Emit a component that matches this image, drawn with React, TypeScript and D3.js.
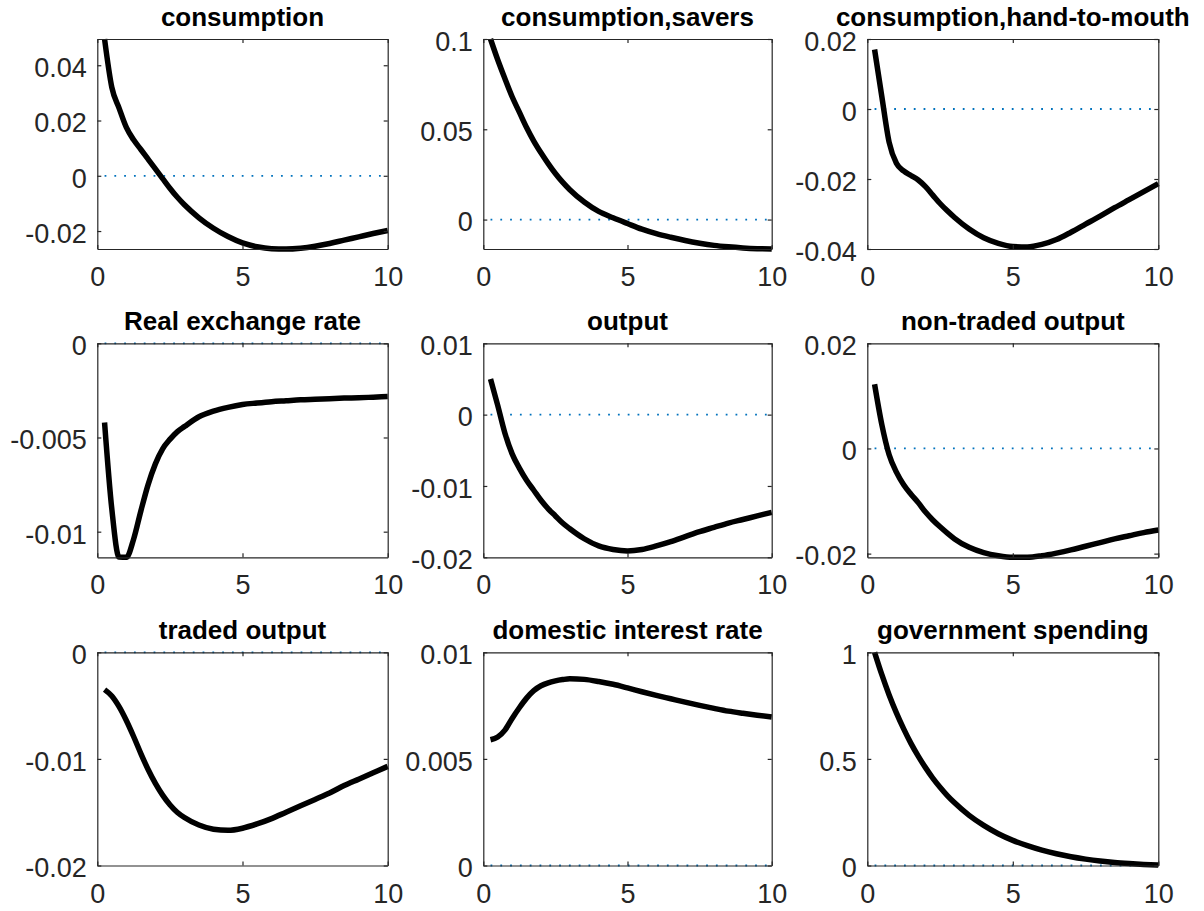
import * as d3 from 'd3';
import React, { useEffect, useRef } from 'react';

// horizon in years (quarterly early on, half-years later)
const periods = [0.25, 0.5, 0.75, 1, 1.25, 1.5, 1.75, 2, 2.25, 2.5, 2.75, 3, 3.5, 4, 4.5, 5, 5.5, 6, 6.5, 7, 7.5, 8, 8.5, 9, 9.5, 10];

const titles = [
    'consumption', 'consumption,savers', 'consumption,hand-to-mouth',
    'Real exchange rate', 'output', 'non-traded output',
    'traded output', 'domestic interest rate', 'government spending'
];

const consumption = [0.0495, 0.032, 0.0245, 0.0175, 0.013, 0.0095, 0.006, 0.0025, -0.001, -0.0045, -0.0077, -0.0105, -0.0152, -0.019, -0.022, -0.0243, -0.0257, -0.0264, -0.0265, -0.0262, -0.0255, -0.0245, -0.0233, -0.0221, -0.0209, -0.0198];
const consumptionSavers = [0.1, 0.0885, 0.078, 0.068, 0.0595, 0.051, 0.0435, 0.037, 0.031, 0.0255, 0.0207, 0.0165, 0.0097, 0.0045, 0.001, -0.0022, -0.0053, -0.0078, -0.0098, -0.0116, -0.0131, -0.0143, -0.0151, -0.0157, -0.0161, -0.0163];
const consumptionHtm = [0.017, 0.0035, -0.0095, -0.0155, -0.0177, -0.019, -0.0203, -0.0222, -0.0246, -0.027, -0.0291, -0.031, -0.0343, -0.0368, -0.0384, -0.0393, -0.0394, -0.0387, -0.0373, -0.0352, -0.0329, -0.0306, -0.0282, -0.0259, -0.0236, -0.0213];
const realExchangeRate = [-0.0042, -0.0088, -0.01135, -0.01136, -0.0104, -0.0089, -0.0075, -0.0064, -0.0056, -0.0051, -0.0047, -0.00442, -0.0039, -0.0036, -0.0034, -0.00325, -0.00317, -0.0031, -0.00305, -0.003, -0.00297, -0.00294, -0.00291, -0.00289, -0.00286, -0.00283];
const output = [0.005, 0.0013, -0.0026, -0.0055, -0.0075, -0.0092, -0.0106, -0.012, -0.0132, -0.0142, -0.0152, -0.016, -0.0174, -0.0184, -0.0189, -0.0191, -0.0189, -0.0184, -0.0178, -0.0171, -0.0164, -0.0158, -0.0152, -0.0147, -0.0142, -0.0137];
const nonTradedOutput = [0.0122, 0.0045, -0.0012, -0.0045, -0.0069, -0.0087, -0.0103, -0.0121, -0.0136, -0.0149, -0.0161, -0.0172, -0.0188, -0.0198, -0.0204, -0.0207, -0.0207, -0.0204, -0.0199, -0.0193, -0.0186, -0.0179, -0.0172, -0.0166, -0.016, -0.0155];
const tradedOutput = [-0.0035, -0.0041, -0.0051, -0.0064, -0.0079, -0.0095, -0.011, -0.0123, -0.0134, -0.0143, -0.015, -0.0155, -0.0162, -0.0166, -0.0167, -0.0165, -0.0161, -0.0156, -0.015, -0.0144, -0.0138, -0.0132, -0.0125, -0.0119, -0.0113, -0.0107];
const interestRate = [0.0059, 0.00603, 0.00635, 0.0069, 0.0074, 0.00785, 0.0082, 0.00843, 0.00857, 0.00866, 0.00872, 0.00876, 0.00873, 0.00863, 0.0085, 0.00833, 0.00815, 0.00798, 0.00782, 0.00766, 0.00751, 0.00737, 0.00724, 0.00714, 0.00705, 0.00697];
const govSpending = [1.0, 0.895, 0.8, 0.716, 0.641, 0.573, 0.513, 0.459, 0.41, 0.367, 0.328, 0.294, 0.235, 0.188, 0.149, 0.118, 0.093, 0.072, 0.055, 0.041, 0.03, 0.021, 0.014, 0.009, 0.005, 0.002];

const series = [consumption, consumptionSavers, consumptionHtm, realExchangeRate, output, nonTradedOutput, tradedOutput, interestRate, govSpending];

const yLimits = [
    [-0.0265, 0.0495], [-0.0163, 0.1], [-0.04, 0.02],
    [-0.01136, 0], [-0.02, 0.01], [-0.0207, 0.02],
    [-0.02, 0], [0, 0.01], [0, 1]
];
const yTicks = [
    [-0.02, 0, 0.02, 0.04], [0, 0.05, 0.1], [-0.04, -0.02, 0, 0.02],
    [-0.01, -0.005, 0], [-0.02, -0.01, 0, 0.01], [-0.02, 0, 0.02],
    [-0.02, -0.01, 0], [0, 0.005, 0.01], [0, 0.5, 1]
];
const xTicks = [0, 5, 10];

// subplot boxes
const colLeft = [97.3, 483.3, 867.3];
const colWidth = [290.4, 288.4, 291];
const rowTop = [39, 343.3, 652.3];
const rowBottom = [249, 557.3, 865.5];

const W = 1204;
const H = 911;
const FONT = "'Liberation Sans', Arial, Helvetica, sans-serif";
const AXIS_COLOR = '#262626';

const IrfGrid = () => {
    const svgRef = useRef(null);

    useEffect(() => {
        const svg = d3.select(svgRef.current);
        svg.selectAll('*').remove();
        svg.attr('width', W).attr('height', H);

        series.forEach((values, i) => {
            const col = i % 3;
            const row = Math.floor(i / 3);
            const left = colLeft[col];
            const right = left + colWidth[col];
            const top = rowTop[row];
            const bottom = rowBottom[row];

            const x = d3.scaleLinear().domain([0, 10]).range([left, right]);
            const y = d3.scaleLinear().domain(yLimits[i]).range([bottom, top]);

            const g = svg.append('g');

            // zero line
            g.append('path')
                .datum([periods[0], periods[periods.length - 1]])
                .attr('fill', 'none')
                .attr('stroke', '#0072BD')
                .attr('stroke-width', 1.8)
                .attr('stroke-dasharray', '1.8 8')
                .attr('d', d3.line<number>().x(d => x(d)).y(() => y(0)));

            // response
            g.append('path')
                .datum(periods.map((p, k) => [p, values[k]] as [number, number]))
                .attr('fill', 'none')
                .attr('stroke', '#000')
                .attr('stroke-width', 5.5)
                .attr('stroke-linejoin', 'round')
                .attr('d', d3.line<[number, number]>()
                    .x(d => x(d[0]))
                    .y(d => y(d[1]))
                    .curve(d3.curveMonotoneX));

            const styleAxis = (a) => {
                a.attr('color', AXIS_COLOR)
                    .attr('font-family', FONT)
                    .attr('font-size', 27);
                a.selectAll('path.domain').attr('stroke-width', 1.2);
                a.selectAll('.tick line').attr('stroke-width', 1.2);
            };

            // axes (box with inward ticks)
            g.append('g')
                .attr('transform', `translate(0,${bottom})`)
                .call(d3.axisBottom(x).tickValues(xTicks).tickSizeInner(-4).tickSizeOuter(0).tickPadding(18).tickFormat(d => String(d)))
                .call(styleAxis);
            g.append('g')
                .attr('transform', `translate(0,${top})`)
                .call(d3.axisTop(x).tickValues(xTicks).tickSizeInner(-4).tickSizeOuter(0).tickFormat(() => ''))
                .call(styleAxis);
            g.append('g')
                .attr('transform', `translate(${left},0)`)
                .call(d3.axisLeft(y).tickValues(yTicks[i]).tickSizeInner(-4).tickSizeOuter(0).tickPadding(10.5).tickFormat(d => String(d)))
                .call(styleAxis)
                .call(a => a.selectAll('.tick text').attr('dy', '0.42em'));
            g.append('g')
                .attr('transform', `translate(${right},0)`)
                .call(d3.axisRight(y).tickValues(yTicks[i]).tickSizeInner(-4).tickSizeOuter(0).tickFormat(() => ''))
                .call(styleAxis);

            // title
            g.append('text')
                .attr('x', (left + right) / 2)
                .attr('y', top - 13)
                .attr('text-anchor', 'middle')
                .attr('font-family', FONT)
                .attr('font-weight', 'bold')
                .attr('font-size', 26)
                .attr('fill', '#000')
                .text(titles[i]);
        });
    }, []);

    return <svg ref={svgRef} style={{ position: 'absolute', left: 0, top: 0, background: '#fff' }}></svg>;
};

export default function App() {
    return <IrfGrid />;
}
